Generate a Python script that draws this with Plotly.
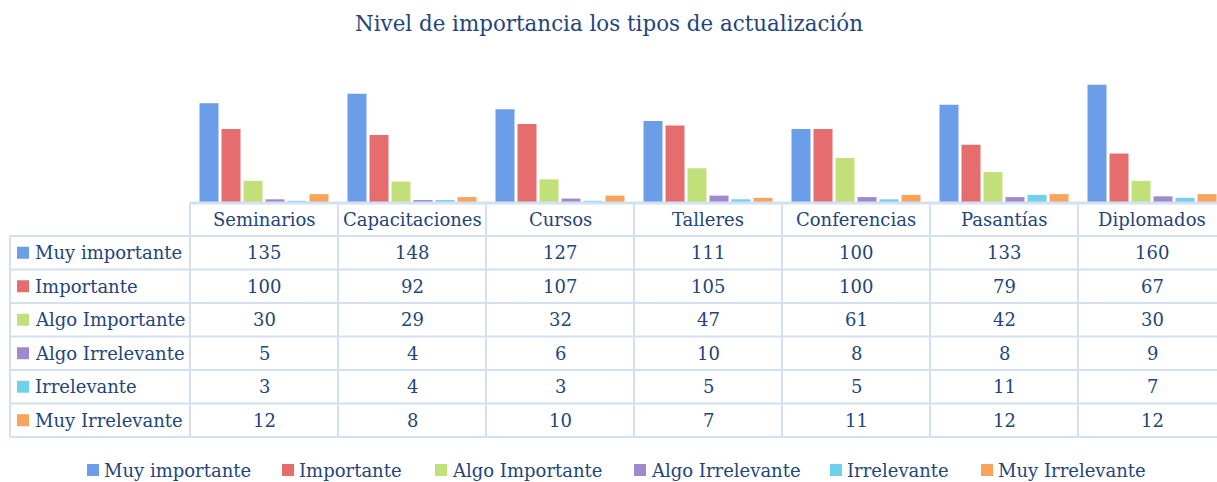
import plotly.graph_objects as go

W, H = 1217, 482

title = "Nivel de importancia los tipos de actualización"
categories = ["Seminarios", "Capacitaciones", "Cursos", "Talleres", "Conferencias", "Pasantías", "Diplomados"]
series_names = ["Muy importante", "Importante", "Algo Importante", "Algo Irrelevante", "Irrelevante", "Muy Irrelevante"]
muy_importante = [135, 148, 127, 111, 100, 133, 160]
importante = [100, 92, 107, 105, 100, 79, 67]
algo_importante = [30, 29, 32, 47, 61, 42, 30]
algo_irrelevante = [5, 4, 6, 10, 8, 8, 9]
irrelevante = [3, 4, 3, 5, 5, 11, 7]
muy_irrelevante = [12, 8, 10, 7, 11, 12, 12]
series_values = [muy_importante, importante, algo_importante, algo_irrelevante, irrelevante, muy_irrelevante]
colors = ["#6b9de8", "#e56d6d", "#c2e07a", "#a08acc", "#6fd2ea", "#f9a35c"]

FONT = "DejaVu Serif"
TXT = "#23457a"
LINE = "#d3e0f0"

# layout geometry (pixels)
plot_left = 190
col_w = 148
base_py = 203
top_py = 70
ymax = 180
row_lines = [236, 269.5, 303, 336.5, 370, 403.5, 437]
header_cy = 219.5
table_left = 10


def px(x):
    return x / W


def py(y):
    return 1 - y / H


fig = go.Figure()
xs = list(range(len(categories)))
for name, vals, c in zip(series_names, series_values, colors):
    fig.add_trace(go.Bar(x=xs, y=vals, name=name, marker=dict(color=c, line=dict(width=0)),
                         showlegend=False, hoverinfo="x+y+name"))

shapes = []
annotations = []

# title
annotations.append(dict(text=title, x=px(609), y=py(23), xref="paper", yref="paper",
                        showarrow=False, font=dict(family=FONT, size=21.4, color=TXT),
                        xanchor="center", yanchor="middle"))

# table lines
def hline(y, x0, x1, w=2):
    shapes.append(dict(type="line", xref="paper", yref="paper", x0=px(x0), x1=px(x1),
                       y0=py(y), y1=py(y), line=dict(color=LINE, width=w), layer="above"))


def vline(x, y0, y1, w=2):
    shapes.append(dict(type="line", xref="paper", yref="paper", x0=px(x), x1=px(x),
                       y0=py(y0), y1=py(y1), line=dict(color=LINE, width=w), layer="above"))


hline(base_py, plot_left, W, 3)
for y in row_lines:
    hline(y, table_left, W)
vline(table_left, row_lines[0], row_lines[-1])
for k in range(len(categories)):
    vline(plot_left + col_w * k, base_py, row_lines[-1])

# header
for k, cat in enumerate(categories):
    annotations.append(dict(text=cat, x=px(plot_left + col_w * k + col_w / 2), y=py(header_cy),
                            xref="paper", yref="paper", showarrow=False,
                            font=dict(family=FONT, size=18, color=TXT),
                            xanchor="center", yanchor="middle"))

# rows
for r, (name, vals, c) in enumerate(zip(series_names, series_values, colors)):
    cy = (row_lines[r] + row_lines[r + 1]) / 2
    shapes.append(dict(type="rect", xref="paper", yref="paper", x0=px(17), x1=px(29),
                       y0=py(cy - 6), y1=py(cy + 6), fillcolor=c, line=dict(width=0)))
    annotations.append(dict(text=name, x=px(33), y=py(cy), xref="paper", yref="paper",
                            showarrow=False, font=dict(family=FONT, size=18, color=TXT),
                            xanchor="left", yanchor="middle"))
    for k, v in enumerate(vals):
        annotations.append(dict(text=str(v), x=px(plot_left + col_w * k + col_w / 2), y=py(cy),
                                xref="paper", yref="paper", showarrow=False,
                                font=dict(family=FONT, size=18, color=TXT),
                                xanchor="center", yanchor="middle"))

# bottom legend
legend_x = [87, 282, 435, 634, 830, 981]
legend_cy = 470
for name, c, lx in zip(series_names, colors, legend_x):
    shapes.append(dict(type="rect", xref="paper", yref="paper", x0=px(lx), x1=px(lx + 12),
                       y0=py(legend_cy - 6), y1=py(legend_cy + 6), fillcolor=c, line=dict(width=0)))
    annotations.append(dict(text=name, x=px(lx + 15), y=py(legend_cy), xref="paper", yref="paper",
                            showarrow=False, font=dict(family=FONT, size=18, color=TXT),
                            xanchor="left", yanchor="middle"))

fig.update_layout(
    width=W, height=H,
    margin=dict(l=0, r=0, t=0, b=0),
    paper_bgcolor="white", plot_bgcolor="white",
    barmode="group", bargap=0.108, bargroupgap=0.136,
    xaxis=dict(domain=[px(plot_left), 1], range=[-0.5, -0.5 + (W - plot_left) / col_w],
               showticklabels=False, showgrid=False, zeroline=False, showline=False, ticks=""),
    yaxis=dict(domain=[py(base_py), py(top_py)], range=[0, ymax], showticklabels=False,
               showgrid=False, zeroline=False, showline=False, ticks=""),
    shapes=shapes, annotations=annotations,
    showlegend=False,
)

fig.write_html("out.html", config={"displayModeBar": False},
               post_script="document.body.style.margin='0';document.body.style.overflow='hidden';")
